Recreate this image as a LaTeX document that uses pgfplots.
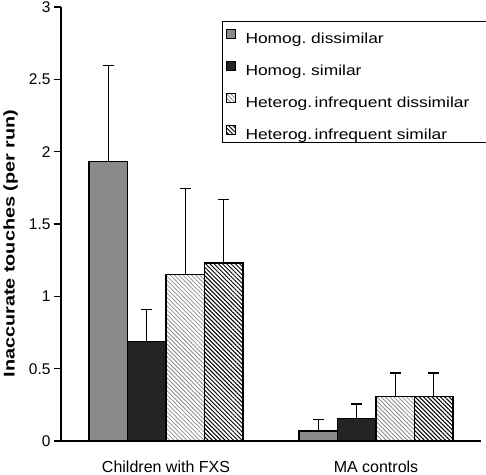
\documentclass[border=0pt]{standalone}
\usepackage{pgfplots}
\pgfplotsset{compat=1.18}
\usepackage{fontspec}
\setmainfont{Liberation Sans}
\newfontfamily\ylabfont[FakeStretch=1.28]{Liberation Sans}
\newfontfamily\legfont[FakeStretch=1.2]{Liberation Sans}
\usetikzlibrary{patterns.meta}
\definecolor{barA}{HTML}{8A8A8A}
\definecolor{barB}{HTML}{242424}
\frenchspacing
\begin{document}
\begin{tikzpicture}
\begin{axis}[
  scale only axis,
  width=420pt, height=434pt,
  xmin=-0.5, xmax=1.5,
  ymin=0, ymax=3,
  axis lines=left,
  axis line style={line width=1.3pt, -},
  every tick/.style={black, line width=1.3pt},
  ytick={0,0.5,1,1.5,2,2.5,3},
  yticklabels={0,0.5,1,1.5,2,2.5,3},
  ytick align=outside,
  major tick length=7pt,
  xtick={0,1},
  xticklabels={Children with FXS, MA controls},
  x tick style={draw=none},
  extra x ticks={-0.5,0.5,1.5},
  extra x tick labels={},
  extra x tick style={tick align=outside, major tick length=7pt, tick style={draw=black, line width=1.3pt}},
  xticklabel style={font=\fontsize{16}{18}\selectfont, anchor=base, yshift=-24pt},
  yticklabel style={font=\fontsize{15.5}{17}\selectfont},
  /pgf/number format/assume math mode=true,
  ylabel={\ylabfont\bfseries Inaccurate touches (per run)},
  ylabel style={font=\fontsize{15.5}{17}\selectfont, at={(axis description cs:-0.120,0.455)}, anchor=center},
  ybar=0pt,
  bar width=38.5pt,
  clip=false,
  legend cell align=left,
  legend style={at={(0.383,0.968)}, anchor=north west, draw=black, line width=1.3pt,
    font=\legfont\fontsize{14.5}{17}\selectfont, row sep=9.3pt, inner xsep=3pt, inner ysep=0.5pt,
    nodes={text height=19pt, text depth=0pt},
    /tikz/every odd column/.append style={column sep=8pt},
    /tikz/every even column/.append style={text width=241pt}},
  legend image code/.code={\draw[#1, line width=1pt] (0pt,-4.5pt) rectangle (9pt,4.5pt);},
  error bars/y dir=plus,
  error bars/y explicit,
  error bars/error bar style={line width=1.3pt, black},
  error bars/error mark options={rotate=90, mark size=5.5pt, line width=1.3pt, black},
]
\addplot[draw=black, line width=1.3pt, fill=barA] coordinates {(0,1.93) +- (0,0.665) (1,0.07) +- (0,0.08)};
\addplot[draw=black, line width=1.3pt, fill=barB] coordinates {(0,0.69) +- (0,0.22) (1,0.155) +- (0,0.10)};
\addplot[draw=black, line width=1.3pt, pattern={Lines[angle=-45,distance=3pt,line width=0.8pt]}, pattern color=black!45] coordinates {(0,1.15) +- (0,0.595) (1,0.31) +- (0,0.16)};
\addplot[draw=black, line width=1.3pt, pattern={Lines[angle=-45,distance=3pt,line width=1pt]}, pattern color=black] coordinates {(0,1.23) +- (0,0.44) (1,0.31) +- (0,0.16)};
\legend{Homog. dissimilar, Homog. similar, Heterog.\,infrequent dissimilar, Heterog.\,infrequent similar}
\end{axis}
\pgfresetboundingbox
\path[use as bounding box] ([shift={(-61pt,-33pt)}]current axis.south west) rectangle ([shift={(425pt,441pt)}]current axis.south west);
\end{tikzpicture}
\end{document}
